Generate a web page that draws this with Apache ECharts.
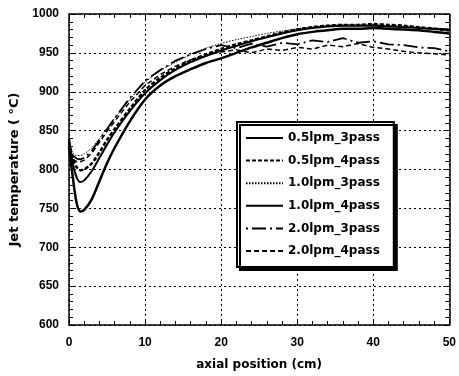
<!DOCTYPE html>
<html><head><meta charset="utf-8">
<script src="https://cdn.jsdelivr.net/npm/echarts@6/dist/echarts.min.js"></script>
<style>html,body{margin:0;padding:0;background:#fff}#c{width:459px;height:376px}</style>
</head><body><div id="c"></div>
<script>
var xs = [0, 0.5, 1, 1.5, 2, 3, 4, 5, 6, 8, 10, 12, 14, 16, 18, 20, 22, 24, 26, 28, 30, 32, 34, 36, 38, 40, 42, 44, 46, 48, 50];
var s05_3 = [840, 808, 790, 784, 786, 798, 815, 832, 848, 875, 898, 915, 928, 938, 946, 953, 959, 965, 970, 975, 979, 982, 984, 985, 985, 985, 984, 983, 982, 981, 980];
var s05_4 = [835, 815, 803, 799, 800, 808, 822, 838, 852, 878, 902, 918, 930, 940, 948, 955, 961, 966, 971, 976, 980, 983, 985, 986, 986, 987, 986, 985, 983, 981, 979];
var s10_3 = [832, 822, 818, 818, 820, 828, 840, 853, 866, 890, 912, 927, 938, 948, 956, 962, 967, 971, 975, 978, 981, 983, 985, 986, 986, 986, 985, 984, 982, 980, 978];
var s10_4 = [830, 790, 757, 746, 748, 762, 785, 808, 828, 862, 890, 908, 920, 929, 937, 943, 950, 957, 963, 969, 974, 977, 979, 981, 981, 982, 981, 980, 979, 977, 975];
var s20_3 = [826, 818, 814, 813, 815, 824, 838, 852, 866, 892, 914, 928, 940, 948, 955, 960, 956, 962, 958, 963, 961, 966, 964, 969, 963, 965, 961, 960, 957, 956, 952];
var s20_4 = [822, 813, 810, 810, 812, 821, 835, 849, 862, 887, 908, 922, 933, 941, 947, 951, 954, 950, 955, 953, 957, 955, 960, 958, 962, 957, 955, 952, 950, 949, 947];
var names = ['0.5lpm_3pass', '0.5lpm_4pass', '1.0lpm_3pass', '1.0lpm_4pass', '2.0lpm_3pass', '2.0lpm_4pass'];
var xTicks = [0, 10, 20, 30, 40, 50];
var yTicks = [600, 650, 700, 750, 800, 850, 900, 950, 1000];

function pts(v){ return xs.map(function(x,i){ return [x, v[i]]; }); }
var styles = [
  {type:'solid', width:2, smooth:true},
  {type:[4,2], width:2.5, smooth:true},
  {type:[1.5,1.5], width:1, smooth:true},
  {type:'solid', width:2.5, smooth:true},
  {type:[2,4,14,4], width:1.8, smooth:false},
  {type:[5,3], width:1.5, smooth:false}
];
var data = [s05_3, s05_4, s10_3, s10_4, s20_3, s20_4];
var series = data.map(function(v,i){
  return {name:names[i], type:'line', data:pts(v), symbol:'none', smooth:styles[i].smooth ? 0.3 : false,
    lineStyle:{color:'#000', width:styles[i].width, type:styles[i].type}, itemStyle:{color:'#000'}, z:3};
});
var font = 'DejaVu Sans';
var lbl = {color:'#000', fontFamily:'Liberation Sans', fontWeight:'bold', fontSize:12};
var chart = echarts.init(document.getElementById('c'), null, {renderer:'canvas'});
chart.setOption({
  animation:false,
  backgroundColor:'#fff',
  grid:{left:69, right:6, top:14, bottom:51},
  legend:{
    data:names, orient:'vertical', left:237, top:122, itemWidth:37, itemHeight:14, itemGap:10.6,
    padding:[10,14,10,8], backgroundColor:'#fff', borderColor:'#000', borderWidth:2,
    shadowColor:'#000', shadowOffsetX:3, shadowOffsetY:3, shadowBlur:0,
    itemStyle:{opacity:0},
    textStyle:{color:'#000', fontFamily:font, fontWeight:'bold', fontSize:12},
    selectedMode:false, z:10
  },
  xAxis:[{
    type:'value', min:0, max:50, interval:10, position:'bottom',
    name:'axial position (cm)', nameLocation:'middle', nameGap:34,
    nameTextStyle:{color:'#000', fontFamily:font, fontWeight:'bold', fontSize:12},
    axisLine:{onZero:false, lineStyle:{color:'#000', width:1.5}},
    axisTick:{inside:true, length:6, lineStyle:{color:'#000'}},
    minorTick:{show:true, splitNumber:5, length:4, lineStyle:{color:'#000'}},
    axisLabel:Object.assign({margin:12, formatter:function(v){return xTicks.indexOf(v)>=0? String(v):'';}}, lbl),
    splitLine:{show:true, lineStyle:{color:'#000', width:1, type:[2,3]}}
  },{
    type:'value', min:0, max:50, interval:10, position:'top',
    axisLine:{onZero:false, lineStyle:{color:'#000', width:1.5}},
    axisTick:{inside:true, length:6, lineStyle:{color:'#000'}},
    minorTick:{show:true, splitNumber:5, length:4, lineStyle:{color:'#000'}},
    axisLabel:{show:false}, splitLine:{show:false}
  }],
  yAxis:[{
    type:'value', min:600, max:1000, interval:50, position:'left',
    name:'Jet temperature ( °C)', nameLocation:'middle', nameGap:42, nameRotate:90,
    nameTextStyle:{color:'#000', fontFamily:font, fontWeight:'bold', fontSize:13},
    axisLine:{onZero:false, lineStyle:{color:'#000', width:1.5}},
    axisTick:{inside:true, length:6, lineStyle:{color:'#000'}},
    minorTick:{show:true, splitNumber:5, length:4, lineStyle:{color:'#000'}},
    axisLabel:Object.assign({margin:10, formatter:function(v){return yTicks.indexOf(v)>=0? String(v):'';}}, lbl),
    splitLine:{show:true, lineStyle:{color:'#000', width:1, type:[2,3]}}
  },{
    type:'value', min:600, max:1000, interval:50, position:'right',
    axisLine:{onZero:false, lineStyle:{color:'#000', width:1.5}},
    axisTick:{inside:true, length:6, lineStyle:{color:'#000'}},
    minorTick:{show:true, splitNumber:5, length:4, lineStyle:{color:'#000'}},
    axisLabel:{show:false}, splitLine:{show:false}
  }],
  series:series
});
</script></body></html>
